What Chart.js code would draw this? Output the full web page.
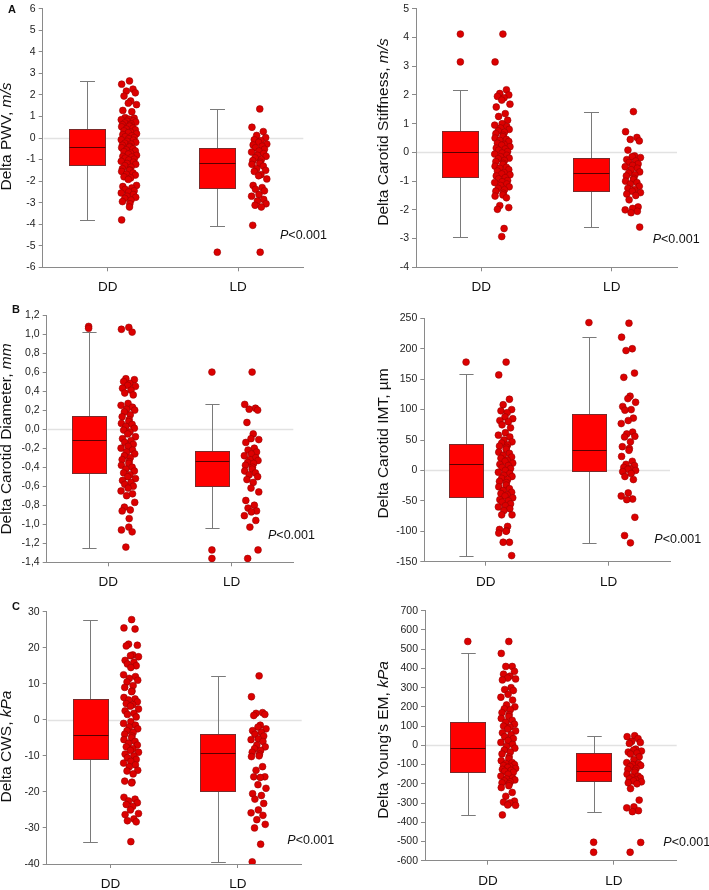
<!DOCTYPE html>
<html><head><meta charset="utf-8">
<script src="https://cdn.jsdelivr.net/npm/chart.js@4/dist/chart.umd.min.js"></script>
<style>
html,body{margin:0;padding:0;background:#fff;width:709px;height:890px;overflow:hidden;}
canvas{position:absolute;}
</style></head><body>
<canvas id="c0"></canvas><canvas id="c1"></canvas><canvas id="c2"></canvas>
<canvas id="c3"></canvas><canvas id="c4"></canvas><canvas id="c5"></canvas>
<script>
// ---------- DATA ----------
const categories = ['DD', 'LD'];

const yTicksPWV = [-6,-5,-4,-3,-2,-1,0,1,2,3,4,5,6];
const yTicksStiff = [-4,-3,-2,-1,0,1,2,3,4,5];
const yTicksDiam = [-1.4,-1.2,-1.0,-0.8,-0.6,-0.4,-0.2,0,0.2,0.4,0.6,0.8,1.0,1.2];
const yTicksIMT = [-150,-100,-50,0,50,100,150,200,250];
const yTicksCWS = [-40,-30,-20,-10,0,10,20,30];
const yTicksYoung = [-600,-500,-400,-300,-200,-100,0,100,200,300,400,500,600,700];

// box statistics: [whisker low, Q1, median, Q3, whisker high] for DD, LD
const boxPWV   = [[-3.8,-1.25,-0.43,0.42,2.65], [-4.07,-2.31,-1.18,-0.48,1.35]];
const boxStiff = [[-2.94,-0.84,0.0,0.75,2.17], [-2.61,-1.35,-0.73,-0.2,1.42]];
const boxDiam  = [[-1.25,-0.456,-0.116,0.14,1.02], [-1.035,-0.6,-0.34,-0.228,0.26]];
const boxIMT   = [[-140,-43,10,44,158], [-119,-1,34,93,220]];
const boxCWS   = [[-34,-11,-4.1,5.7,27.8], [-39.4,-19.8,-9.2,-3.8,12.2]];
const boxYoung = [[-362,-140,-12,123,478], [-348,-185,-132,-38,50]];

// outliers drawn at box position
const outPWV   = [[], [-5.3]];
const outStiff = [[4.12,3.15], []];
const outDiam  = [[1.08,1.06], [0.6,-1.27,-1.36]];
const outIMT   = [[178], [243]];
const outCWS   = [[], []];
const outYoung = [[540], [-504,-556]];

// individual values (strip beside each box)
const pwvDD = [2.65,2.5,2.27,2.18,2.1,1.95,1.72,1.62,1.55,1.28,1.22,0.95,0.92,0.88,0.85,0.8,0.78,0.74,0.7,0.66,0.62,0.6,0.55,0.52,0.46,0.42,0.38,0.33,0.28,0.25,0.2,0.16,0.1,0.06,0.02,-0.03,-0.08,-0.1,-0.15,-0.2,-0.24,-0.28,-0.33,-0.38,-0.42,-0.45,-0.5,-0.55,-0.6,-0.63,-0.7,-0.74,-0.8,-0.85,-0.88,-0.93,-0.98,-1.02,-1.08,-1.12,-1.18,-1.22,-1.28,-1.35,-1.42,-1.48,-1.5,-1.55,-1.62,-1.68,-1.72,-1.8,-1.85,-1.92,-2.2,-2.25,-2.32,-2.38,-2.45,-2.5,-2.55,-2.62,-2.7,-2.75,-2.8,-2.88,-2.95,-3.05,-3.2,-3.8];
const pwvLD = [1.35,0.5,0.3,0.12,0.02,-0.08,-0.12,-0.2,-0.28,-0.32,-0.38,-0.45,-0.52,-0.6,-0.65,-0.72,-0.8,-0.85,-0.92,-1.0,-1.05,-1.12,-1.18,-1.22,-1.3,-1.42,-1.5,-1.55,-1.7,-1.75,-1.9,-2.2,-2.3,-2.38,-2.45,-2.62,-2.7,-2.85,-2.92,-3.05,-3.12,-3.2,-4.05,-5.3];

const stiffDD = [4.12,3.15,2.18,2.05,2.0,1.95,1.9,1.82,1.68,1.58,1.35,1.25,1.12,1.0,0.95,0.9,0.85,0.8,0.75,0.7,0.65,0.6,0.55,0.5,0.45,0.42,0.38,0.32,0.28,0.25,0.2,0.15,0.12,0.08,0.03,-0.02,-0.06,-0.1,-0.15,-0.2,-0.22,-0.28,-0.32,-0.38,-0.42,-0.48,-0.52,-0.55,-0.6,-0.65,-0.7,-0.75,-0.78,-0.82,-0.88,-0.92,-0.98,-1.02,-1.05,-1.1,-1.15,-1.2,-1.25,-1.3,-1.35,-1.42,-1.48,-1.52,-1.58,-1.85,-1.92,-1.98,-2.65,-2.93];
const stiffLD = [1.42,0.72,0.52,0.45,0.4,0.08,-0.12,-0.15,-0.18,-0.25,-0.3,-0.35,-0.4,-0.45,-0.5,-0.55,-0.6,-0.68,-0.72,-0.78,-0.82,-0.9,-0.95,-1.0,-1.05,-1.1,-1.18,-1.25,-1.3,-1.35,-1.4,-1.45,-1.5,-1.65,-1.9,-1.95,-2.0,-2.05,-2.1,-2.6];

const diamDD = [1.07,1.05,1.02,0.53,0.52,0.5,0.48,0.46,0.45,0.43,0.41,0.38,0.36,0.27,0.25,0.23,0.21,0.2,0.18,0.15,0.13,0.1,0.08,0.06,0.05,0.03,0.01,-0.01,-0.03,-0.05,-0.08,-0.1,-0.12,-0.14,-0.16,-0.18,-0.2,-0.22,-0.24,-0.26,-0.28,-0.3,-0.32,-0.34,-0.36,-0.38,-0.4,-0.42,-0.44,-0.46,-0.48,-0.5,-0.52,-0.54,-0.56,-0.58,-0.6,-0.62,-0.65,-0.68,-0.7,-0.77,-0.82,-0.85,-0.86,-0.94,-1.03,-1.06,-1.08,-1.24];
const diamLD = [0.6,0.26,0.22,0.21,0.2,0.07,-0.05,-0.1,-0.11,-0.14,-0.2,-0.22,-0.24,-0.26,-0.28,-0.3,-0.32,-0.33,-0.35,-0.36,-0.38,-0.4,-0.42,-0.44,-0.46,-0.48,-0.5,-0.53,-0.56,-0.62,-0.66,-0.75,-0.8,-0.83,-0.86,-0.87,-0.91,-0.96,-1.03,-1.27,-1.36];

const imtDD = [178,157,117,108,100,98,95,88,85,82,80,75,70,62,58,55,50,47,45,42,40,38,35,30,28,25,22,20,17,15,12,10,8,5,3,0,-3,-5,-8,-10,-13,-15,-18,-20,-24,-27,-30,-33,-36,-38,-40,-42,-45,-48,-50,-52,-55,-58,-60,-63,-66,-73,-73,-92,-97,-99,-100,-103,-118,-118,-140];
const imtLD = [242,219,200,197,160,153,122,118,112,105,100,99,86,82,77,63,60,56,55,47,39,36,33,23,15,10,8,5,3,2,0,-2,-5,-10,-15,-37,-42,-47,-48,-77,-107,-119];

const cwsDD = [27.8,25.5,25.2,21,20.7,20.5,18,17.8,17.5,16.5,16,15.5,15,14.5,12.5,12,11.5,11,10.5,9.5,9,8,7.8,6.2,5.8,5.5,5,4.5,4.2,3.8,3,2.5,1.8,1.5,0.8,-0.5,-1,-1.5,-2,-2.5,-3,-3.5,-4,-4.5,-5,-5.5,-6,-6.5,-7,-7.5,-8,-8.5,-9,-9.5,-10,-10.5,-11,-11.5,-12,-12.5,-13,-14,-14.2,-15,-17,-17.3,-17.5,-21.5,-22,-22.5,-23,-23.5,-24,-25,-26,-26.3,-27.5,-28,-28.3,-33.8];
const cwsLD = [12.2,6.4,2.0,1.8,1.5,1.2,-1.5,-2,-2.5,-3,-3.5,-4,-4.5,-5.3,-5.5,-6,-7,-7.5,-8,-8.5,-9,-9.5,-10,-10.2,-13,-14,-15.8,-15.8,-16,-18,-19,-20.5,-21,-22,-23.2,-25,-25.8,-26.5,-27.7,-29,-30,-34.5,-39.4];

const youngDD = [540,478,410,410,385,370,360,350,345,340,300,290,285,265,250,235,210,200,190,185,170,160,150,140,130,120,110,100,95,85,75,65,55,45,35,25,15,5,-5,-15,-25,-35,-45,-60,-70,-80,-90,-95,-100,-105,-110,-115,-120,-125,-130,-135,-140,-150,-160,-170,-175,-180,-185,-190,-195,-200,-210,-220,-245,-265,-290,-295,-300,-310,-312,-362];
const youngLD = [50,45,35,20,15,10,-20,-25,-30,-35,-40,-45,-60,-75,-90,-95,-100,-105,-110,-120,-125,-130,-140,-150,-160,-165,-170,-175,-180,-185,-190,-195,-200,-225,-285,-320,-325,-340,-345,-505,-556];

const pText = 'P<0.001';

// ---------- STYLE / LAYOUT ----------
const FONT = "'Liberation Sans', Arial, sans-serif";
const BOX_SHIFT = 0.16, STRIP_SHIFT = 0.16, BOX_W = 0.275, CAP_W = 0.115, STRIP_HALF = 0.06;
const JIT = [0.1,-0.9,0.55,-0.3,0.85,-0.6,0.25,-0.05,1.0,-0.75,0.4,-0.45,0.7,0.0,-0.95,0.6,-0.2,0.9,-0.5,0.3,-0.8,0.15];
const intFmt = v => String(v);
const commaFmt = v => (Math.abs(v) < 1e-9 ? '0,0' : v.toFixed(1).replace('.', ','));

const panels = [
 {id:'c0', left:0, top:0, w:355, h:295, area:{l:42.7,r:303.3,t:6.7,b:267.3}, yMin:-6, yMax:6, yTicks:yTicksPWV, fmt:intFmt,
  title:['Delta PWV, ','m/s'], titleX:7, titleY:136.5, letter:'A', letterPos:[8,10], pPos:[280,236],
  strips:[pwvDD,pwvLD], boxes:boxPWV, outliers:outPWV},
 {id:'c1', left:355, top:0, w:354, h:295, area:{l:416,r:677,t:6,b:267.3}, yMin:-4, yMax:5, yTicks:yTicksStiff, fmt:intFmt,
  title:['Delta Carotid Stiffness, ','m/s'], titleX:383.5, titleY:132, letter:null, pPos:[652.7,239.3],
  strips:[stiffDD,stiffLD], boxes:boxStiff, outliers:outStiff},
 {id:'c2', left:0, top:295, w:355, h:295, area:{l:46.7,r:293.3,t:315,b:562.3}, yMin:-1.4, yMax:1.2, yTicks:yTicksDiam, fmt:commaFmt,
  title:['Delta Carotid Diameter, ','mm'], titleX:7, titleY:439, letter:'B', letterPos:[12,310], pPos:[268,535.7],
  strips:[diamDD,diamLD], boxes:boxDiam, outliers:outDiam},
 {id:'c3', left:355, top:295, w:354, h:295, area:{l:424.3,r:670,t:318.3,b:561.7}, yMin:-150, yMax:250, yTicks:yTicksIMT, fmt:intFmt,
  title:['Delta Carotid IMT, \u00b5m',''], titleX:383.5, titleY:443.5, letter:null, pPos:[654.3,540],
  strips:[imtDD,imtLD], boxes:boxIMT, outliers:outIMT},
 {id:'c4', left:0, top:590, w:355, h:300, area:{l:46.7,r:301.7,t:611.7,b:864}, yMin:-40, yMax:30, yTicks:yTicksCWS, fmt:intFmt,
  title:['Delta CWS, ','kPa'], titleX:7, titleY:746.5, letter:'C', letterPos:[12,606.5], pPos:[287.3,840.7],
  strips:[cwsDD,cwsLD], boxes:boxCWS, outliers:outCWS},
 {id:'c5', left:355, top:590, w:354, h:300, area:{l:425,r:676.7,t:610.7,b:860.7}, yMin:-600, yMax:700, yTicks:yTicksYoung, fmt:intFmt,
  title:['Delta Young\u2019s EM, ','kPa'], titleX:383.5, titleY:740, letter:null, pPos:[663.3,842.3],
  strips:[youngDD,youngLD], boxes:boxYoung, outliers:outYoung},
];

const pointStyle = {pointRadius:3.4, pointHoverRadius:3.4, backgroundColor:'#dc0000', borderColor:'#9a0000', borderWidth:0.6};

function boxPlugin(p){
  return {
    id:'boxes',
    beforeDatasetsDraw(chart){
      const {ctx, chartArea:ca, scales:{x, y}} = chart;
      ctx.save();
      // zero reference line
      const y0 = Math.round(y.getPixelForValue(0)) + 0.5;
      ctx.strokeStyle = '#e2e2e2'; ctx.lineWidth = 1.3;
      ctx.beginPath(); ctx.moveTo(ca.left + 1, y0); ctx.lineTo(ca.right, y0); ctx.stroke();
      p.boxes.forEach((b, i) => {
        const [lo, q1, med, q3, hi] = b;
        const xc = x.getPixelForValue(i - BOX_SHIFT);
        const hw = (x.getPixelForValue(BOX_W) - x.getPixelForValue(0)) / 2;
        const cw = (x.getPixelForValue(CAP_W) - x.getPixelForValue(0)) / 2;
        const xm = Math.round(xc) + 0.5;
        const py = v => Math.round(y.getPixelForValue(v)) + 0.5;
        ctx.strokeStyle = '#7a7a7a'; ctx.lineWidth = 1;
        ctx.beginPath();
        ctx.moveTo(xm, py(hi)); ctx.lineTo(xm, py(q3));
        ctx.moveTo(xm, py(q1)); ctx.lineTo(xm, py(lo));
        ctx.moveTo(xm - cw, py(hi)); ctx.lineTo(xm + cw, py(hi));
        ctx.moveTo(xm - cw, py(lo)); ctx.lineTo(xm + cw, py(lo));
        ctx.stroke();
        const x1 = Math.round(xc - hw) + 0.5, x2 = Math.round(xc + hw) + 0.5;
        ctx.fillStyle = '#ff0000';
        ctx.fillRect(x1, py(q3), x2 - x1, py(q1) - py(q3));
        ctx.strokeStyle = '#7a2a2a'; ctx.lineWidth = 1;
        ctx.strokeRect(x1, py(q3), x2 - x1, py(q1) - py(q3));
        ctx.strokeStyle = '#5a0000'; ctx.lineWidth = 1.2;
        ctx.beginPath(); ctx.moveTo(x1, py(med)); ctx.lineTo(x2, py(med)); ctx.stroke();
      });
      ctx.restore();
    },
    afterDraw(chart){
      const ctx = chart.ctx;
      ctx.save();
      // y-axis title (rotated), unit in italics
      const tx = p.titleX - p.left, ty = p.titleY - p.top;
      const fN = "15.5px " + FONT, fI = "italic 15.5px " + FONT;
      ctx.font = fN; const w1 = ctx.measureText(p.title[0]).width;
      ctx.font = fI; const w2 = ctx.measureText(p.title[1]).width;
      ctx.translate(tx, ty); ctx.rotate(-Math.PI / 2);
      ctx.fillStyle = '#111'; ctx.textBaseline = 'middle'; ctx.textAlign = 'left';
      const start = -(w1 + w2) / 2;
      ctx.font = fN; ctx.fillText(p.title[0], start, 0);
      ctx.font = fI; ctx.fillText(p.title[1], start + w1, 0);
      ctx.setTransform(1, 0, 0, 1, 0, 0);
      // panel letter
      if (p.letter) {
        ctx.font = "bold 11px " + FONT; ctx.textBaseline = 'middle'; ctx.textAlign = 'left';
        ctx.fillText(p.letter, p.letterPos[0] - p.left, p.letterPos[1] - p.top);
      }
      // p value with italic P
      const px = p.pPos[0] - p.left, pyy = p.pPos[1] - p.top;
      ctx.textBaseline = 'middle'; ctx.textAlign = 'left'; ctx.fillStyle = '#111';
      ctx.font = "italic 12.5px " + FONT; ctx.fillText(pText[0], px, pyy);
      const wp = ctx.measureText(pText[0]).width;
      ctx.font = "12.5px " + FONT; ctx.fillText(pText.slice(1), px + wp, pyy);
      ctx.restore();
    }
  };
}

function makeChart(p){
  const cv = document.getElementById(p.id);
  cv.width = p.w; cv.height = p.h;
  cv.style.left = p.left + 'px'; cv.style.top = p.top + 'px';
  cv.style.width = p.w + 'px'; cv.style.height = p.h + 'px';
  const a = {l:p.area.l - p.left, r:p.area.r - p.left, t:p.area.t - p.top, b:p.area.b - p.top};
  const datasets = [];
  p.strips.forEach((vals, i) => {
    datasets.push(Object.assign({data: vals.map((v, k) => ({x: i + STRIP_SHIFT + JIT[k % JIT.length] * STRIP_HALF, y: v}))}, pointStyle));
  });
  p.outliers.forEach((vals, i) => {
    datasets.push(Object.assign({data: vals.map(v => ({x: i - BOX_SHIFT, y: v}))}, pointStyle));
  });
  const axisCol = '#8a8a8a';
  new Chart(cv, {
    type: 'scatter',
    data: {datasets},
    options: {
      responsive: false, animation: false, events: [],
      layout: {padding: {top: a.t, right: p.w - a.r, left: 0, bottom: 0}},
      plugins: {legend: {display: false}, tooltip: {enabled: false}},
      scales: {
        x: {
          type: 'linear', min: -0.5, max: 1.5,
          afterBuildTicks: s => { s.ticks = categories.map((c, i) => ({value: i})); },
          afterFit: s => { s.height = p.h - a.b; },
          ticks: {callback: v => categories[v], padding: 8, color: '#111', maxRotation: 0, autoSkip: false,
                  font: {family: FONT, size: 13.5}},
          grid: {drawOnChartArea: false, drawTicks: true, tickLength: 4, color: axisCol},
          border: {color: axisCol, width: 1}
        },
        y: {
          min: p.yMin, max: p.yMax,
          afterBuildTicks: s => { s.ticks = p.yTicks.map(v => ({value: v})); },
          afterFit: s => { s.width = a.l; },
          ticks: {callback: v => p.fmt(v), padding: 3, color: '#222', autoSkip: false,
                  font: {family: FONT, size: 10.5, lineHeight: 1.1}},
          grid: {drawOnChartArea: false, drawTicks: true, tickLength: 4, color: axisCol},
          border: {color: axisCol, width: 1}
        }
      }
    },
    plugins: [boxPlugin(p)]
  });
}
panels.forEach(makeChart);
</script>
</body></html>
